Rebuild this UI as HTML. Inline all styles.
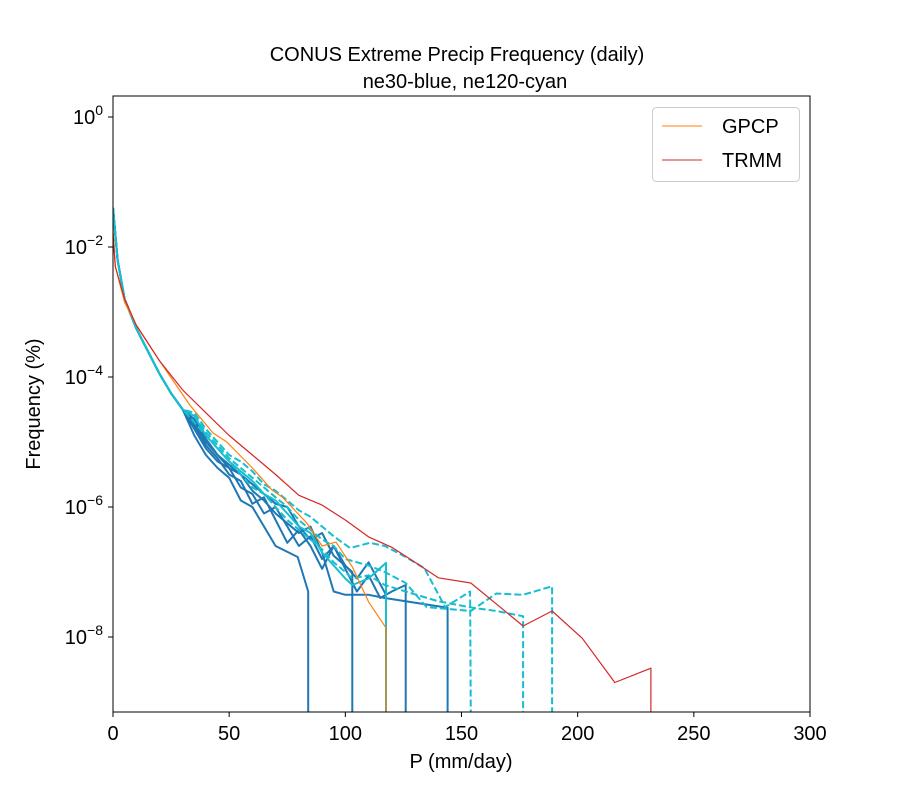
<!DOCTYPE html>
<html><head><meta charset="utf-8"><style>
body{margin:0;background:#fff}
svg{font-family:"Liberation Sans","DejaVu Sans",sans-serif}
</style></head><body>
<svg id="c" width="900" height="800" xmlns="http://www.w3.org/2000/svg">
<defs><clipPath id="clip"><rect x="113" y="96" width="697" height="616"/></clipPath></defs>
<text x="457" y="61" font-size="20" text-anchor="middle">CONUS Extreme Precip Frequency (daily)</text>
<text x="465" y="88" font-size="20" text-anchor="middle">ne30-blue, ne120-cyan</text>
<g id="series" clip-path="url(#clip)"></g>
<rect x="113" y="96" width="697" height="616" fill="none" stroke="#000" stroke-width="1"/>
<g id="axes"></g>
<text x="461" y="768" font-size="20" text-anchor="middle">P (mm/day)</text>
<text transform="translate(40,404) rotate(-90)" font-size="20" text-anchor="middle">Frequency (%)</text>
<g>
<rect x="652.5" y="107.5" width="147" height="74" rx="4" fill="#fff" stroke="#ccc"/>
<line x1="662" y1="126" x2="702" y2="126" stroke="#ff7f0e" stroke-width="1"/>
<text x="722" y="133" font-size="20">GPCP</text>
<line x1="662" y1="160" x2="702" y2="160" stroke="#d62728" stroke-width="1"/>
<text x="722" y="167" font-size="20">TRMM</text>
</g>
</svg>
<script>
// data: P (mm/day) and log10(frequency %); null = zero frequency
const xTicks=[0,50,100,150,200,250,300];
const yTickExps=[0,-2,-4,-6,-8];
const commonP=[0,2,5,10,15,20,25,30];
const commonL=[-1.4,-2.2,-2.8,-3.25,-3.6,-3.95,-4.25,-4.5];
const trmmP=[0,1,5,10,20,30,40,50,60,70,80,90,100,110,120,130,140,154,176.5,189,202,216,231.5,231.5];
const trmmL=[-1.8,-2.3,-2.8,-3.2,-3.75,-4.2,-4.55,-4.9,-5.2,-5.5,-5.82,-5.97,-6.2,-6.46,-6.62,-6.85,-7.09,-7.17,-7.83,-7.6,-8.02,-8.7,-8.48,null];
const gpcpP=[0,1,5,10,20,33,43,49,60,68.5,73,83.5,90,96,103,110,117.5,117.5];
const gpcpL=[-1.7,-2.3,-2.85,-3.2,-3.75,-4.43,-4.86,-5.0,-5.4,-5.74,-5.85,-6.25,-6.6,-6.54,-6.92,-7.46,-7.86,null];
const blueAP=[35,40,45,50,55,60,65,70,79.5,84,84];
const blueAL=[-4.9,-5.2,-5.4,-5.55,-5.9,-6.0,-6.3,-6.6,-6.77,-7.3,null];
const blueBP=[35,40,45,50,55,60,65,70,75,80,85,90,95,100,105,110,115,120,126,126];
const blueBL=[-4.8,-5.1,-5.3,-5.4,-5.7,-5.8,-6.1,-6.0,-6.3,-6.6,-6.45,-6.8,-6.6,-6.95,-7.3,-7.05,-7.4,-7.3,-7.2,null];
const blueCP=[35,40,45,50,55,60,65,70,75,80,85,90,95,100,110,117,126,135,144,144];
const blueCL=[-4.7,-5.0,-5.2,-5.35,-5.5,-5.75,-5.9,-6.1,-6.25,-6.4,-6.3,-6.7,-7.3,-7.35,-7.35,-7.4,-7.45,-7.5,-7.55,null];
const blueDP=[35,40,45,50,55,60,65,70,75,80,85,90,95,100,105,110,117.5,117.5];
const blueDL=[-4.75,-5.05,-5.25,-5.5,-5.6,-5.95,-5.85,-6.2,-6.55,-6.35,-6.6,-6.95,-6.6,-6.9,-7.1,-6.85,-7.35,null];
const blueEP=[35,40,45,50,55,60,65,70,75,80,85,90,95,103,103];
const blueEL=[-4.65,-4.95,-5.2,-5.4,-5.5,-5.65,-5.8,-5.95,-6.0,-6.3,-6.5,-6.4,-6.75,-7.0,null];
const cyanSP=[35,40,45,50,55,60,65,70,75,80,85,90,95,100,103,110,117.5,117.5];
const cyanSL=[-4.6,-4.9,-5.1,-5.3,-5.45,-5.6,-5.8,-5.9,-6.1,-6.3,-6.4,-6.7,-6.9,-7.1,-7.2,-7.1,-6.86,null];
const cyanD1P=[35,40,45,50,55,60,65,70,75,80,85,90,95,102,110.6,117,126,134,143,153.7,154];
const cyanD1L=[-4.55,-4.8,-5.0,-5.2,-5.3,-5.45,-5.65,-5.75,-5.9,-6.05,-6.15,-6.3,-6.45,-6.63,-6.55,-6.6,-6.77,-6.94,-7.54,-7.3,null];
const cyanD2P=[35,40,45,50,55,60,65,70,75,80,85,90,95,100,110,117,126,135,154,165,176.5,189,189];
const cyanD2L=[-4.6,-4.85,-5.05,-5.25,-5.4,-5.55,-5.7,-5.85,-6.0,-6.2,-6.35,-6.5,-6.6,-6.8,-6.9,-7.0,-7.17,-7.54,-7.6,-7.33,-7.35,-7.22,null];
const cyanD3P=[35,40,45,50,55,60,65,70,75,80,85,90,95,100,103,110,117,126,140,155,165,176.5,176.5];
const cyanD3L=[-4.7,-4.9,-5.1,-5.3,-5.5,-5.7,-5.8,-6.0,-6.2,-6.35,-6.5,-6.65,-6.85,-7.0,-7.1,-7.05,-7.2,-7.3,-7.45,-7.55,-7.6,-7.68,null];

const X0=113,XS=697/300, YREF=117, DEC=65, BOTTOM=720;
const xs=p=>X0+p*XS;
const ys=l=>l===null?BOTTOM:YREF-DEC*l;
const NS="http://www.w3.org/2000/svg";
const sg=document.getElementById('series');
function line(P,L,color,w,dash,name,prefix){
  let d='';
  const allP=prefix?commonP.concat(P):P, allL=prefix?commonL.concat(L):L;
  allP.forEach((p,i)=>{d+=(i?'L':'M')+xs(p).toFixed(1)+','+ys(allL[i]).toFixed(1);});
  const e=document.createElementNS(NS,'path');
  e.setAttribute('d',d);e.setAttribute('fill','none');e.setAttribute('stroke',color);
  e.setAttribute('stroke-width',w);if(dash)e.setAttribute('stroke-dasharray',dash);
  e.setAttribute('stroke-linejoin','round');
  
  
  sg.appendChild(e);
}
const B='#1f77b4',C='#17becf';
line(blueAP,blueAL,B,2,null,'ne30-line-a',true);
line(blueBP,blueBL,B,2,null,'ne30-line-b',true);
line(blueCP,blueCL,B,2,null,'ne30-line-c',true);
line(blueDP,blueDL,B,2,null,'ne30-line-d',true);
line(blueEP,blueEL,B,2,null,'ne30-line-e',true);
line(cyanSP,cyanSL,C,2,null,'ne120-line-solid',true);
line(cyanD1P,cyanD1L,C,2,'7,3','ne120-line-dashed-a',true);
line(cyanD2P,cyanD2L,C,2,'7,3','ne120-line-dashed-b',true);
line(cyanD3P,cyanD3L,C,2,'7,3','ne120-line-dashed-c',true);
line(gpcpP,gpcpL,'#ff7f0e',1.2,null,'gpcp-line',false);
line(trmmP,trmmL,'#d62728',1.2,null,'trmm-line',false);

const ax=document.getElementById('axes');
xTicks.forEach(t=>{
  const x=xs(t);
  const l=document.createElementNS(NS,'line');
  l.setAttribute('x1',x);l.setAttribute('x2',x);l.setAttribute('y1',712);l.setAttribute('y2',717);l.setAttribute('stroke','#000');
  
  
  ax.appendChild(l);
  const tx=document.createElementNS(NS,'text');
  tx.setAttribute('x',x);tx.setAttribute('y',740);tx.setAttribute('font-size','20');tx.setAttribute('text-anchor','middle');
  tx.textContent=t;
  
  
  ax.appendChild(tx);
});
yTickExps.forEach(e=>{
  const y=ys(e);
  const l=document.createElementNS(NS,'line');
  l.setAttribute('x1',108);l.setAttribute('x2',113);l.setAttribute('y1',y);l.setAttribute('y2',y);l.setAttribute('stroke','#000');
  
  
  ax.appendChild(l);
  const tx=document.createElementNS(NS,'text');
  tx.setAttribute('x',103);tx.setAttribute('y',y+7);tx.setAttribute('font-size','20');tx.setAttribute('text-anchor','end');
  tx.innerHTML='10<tspan dy="-9" font-size="14">'+(e===0?'0':'\u2212'+(-e))+'</tspan>';
  
  
  ax.appendChild(tx);
});
</script>
</body></html>
